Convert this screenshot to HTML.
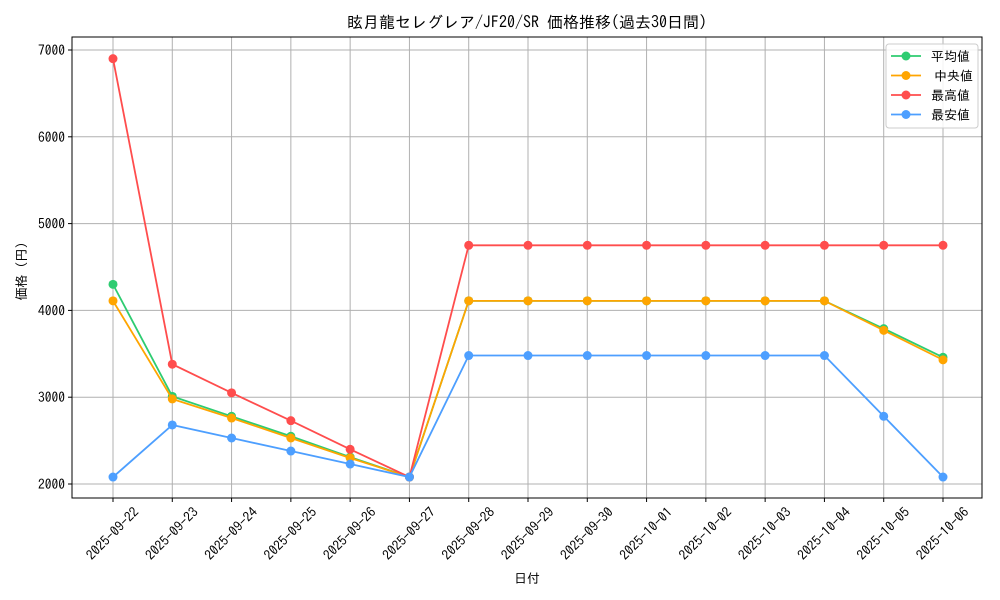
<!DOCTYPE html>
<html><head><meta charset="utf-8"><style>
html,body{margin:0;padding:0;background:#fff;}
svg{display:block;font-family:"IPAGothic","Liberation Sans","Noto Sans CJK JP",sans-serif;}
</style></head><body>
<svg id="c" width="1000" height="600"></svg>
<script>
const categories=["2025-09-22","2025-09-23","2025-09-24","2025-09-25","2025-09-26","2025-09-27","2025-09-28","2025-09-29","2025-09-30","2025-10-01","2025-10-02","2025-10-03","2025-10-04","2025-10-05","2025-10-06"];
const avgValues=[4300,3010,2780,2550,2310,2080,4110,4110,4110,4110,4110,4110,4110,3790,3460];
const medianValues=[4110,2980,2760,2530,2300,2080,4110,4110,4110,4110,4110,4110,4110,3770,3430];
const maxValues=[6900,3380,3050,2730,2400,2080,4750,4750,4750,4750,4750,4750,4750,4750,4750];
const minValues=[2080,2680,2530,2380,2230,2080,3480,3480,3480,3480,3480,3480,3480,2780,2080];
const yTicks=[2000,3000,4000,5000,6000,7000];
const seriesNames=["平均値","中央値","最高値","最安値"];
const NS="http://www.w3.org/2000/svg";
const svg=document.getElementById('c');
const L=72,R=982,T=37,B=498;
const x=i=>113+i*(943-113)/(categories.length-1);
const y=v=>484-(v-2000)*(484-50)/5000;
function el(t,a,txt){const e=document.createElementNS(NS,t);for(const k in a)e.setAttribute(k,a[k]);if(txt!=null)e.textContent=txt;svg.appendChild(e);return e;}
yTicks.forEach(v=>{const g=el('line',{x1:L,x2:R,y1:y(v),y2:y(v),stroke:'#b0b0b0','stroke-width':1});

el('line',{x1:L-4,x2:L,y1:y(v),y2:y(v),stroke:'#000'});
const l=el('text',{x:L-7,y:y(v)+5,'text-anchor':'end','font-size':13.5},v);
});
categories.forEach((c,i)=>{const g=el('line',{x1:x(i),x2:x(i),y1:T,y2:B,stroke:'#b0b0b0','stroke-width':1});

el('line',{x1:x(i),x2:x(i),y1:B,y2:B+4,stroke:'#000'});
const cx=x(i),cy=B+36;
const l=el('text',{x:cx,y:cy+4,'text-anchor':'middle','font-size':13.5,transform:`rotate(-45 ${cx} ${cy})`},c);
});
const fr=el('rect',{x:L,y:T,width:R-L,height:B-T,fill:'none',stroke:'#000','stroke-width':1});

const series=[[avgValues,'#2ecc71'],[medianValues,'#ffa500'],[maxValues,'#ff4d4d'],[minValues,'#4d9fff']];
series.forEach(([vals,col],si)=>{
const p=el('polyline',{points:vals.map((v,i)=>x(i)+','+y(v)).join(' '),fill:'none',stroke:col,'stroke-width':1.8});

vals.forEach((v,i)=>{const c=el('circle',{cx:x(i),cy:y(v),r:4.5,fill:col});
});});
const lg=el('rect',{x:886,y:44,width:92,height:84,rx:3,fill:'#fff','fill-opacity':0.85,stroke:'#ccc'});

series.forEach(([v,col],i)=>{const yy=56+i*19.5;
el('line',{x1:891,x2:921,y1:yy,y2:yy,stroke:col,'stroke-width':1.8});
el('circle',{cx:906,cy:yy,r:4.5,fill:col});
const t=el('text',{x:(i==1?934:931),y:yy+5,'font-size':13},seriesNames[i]);
});
const ti=el('text',{x:527,y:28,'text-anchor':'middle','font-size':16},'眩月龍セレグレア/JF20/SR 価格推移(過去30日間)');

const xt=el('text',{x:527,y:583,'text-anchor':'middle','font-size':13},'日付');

const yt=el('text',{x:26,y:268,'text-anchor':'middle','font-size':13,transform:'rotate(-90 26 268)'},'価格（円）');

</script>
</body></html>
